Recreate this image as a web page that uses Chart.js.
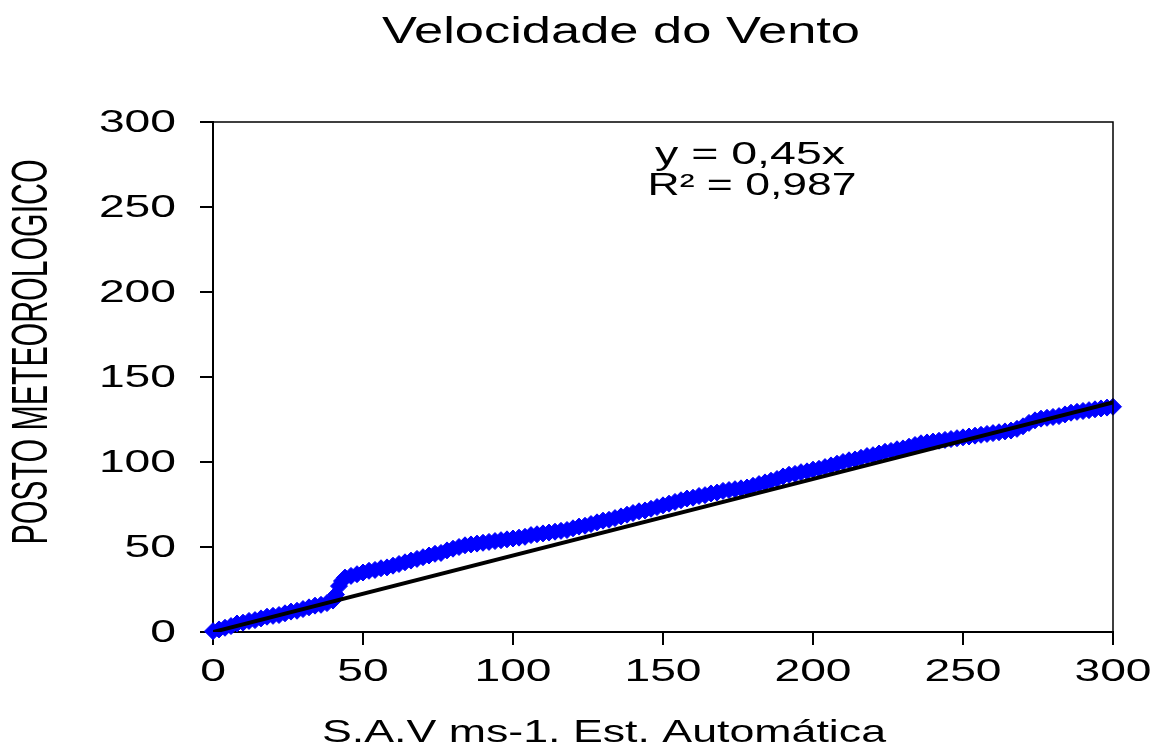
<!DOCTYPE html>
<html>
<head>
<meta charset="utf-8">
<script src="https://cdn.jsdelivr.net/npm/chart.js@4"></script>
<style>
  body { margin: 0; background: #fff; }
  #wrap { width: 1154px; height: 747px; position: relative; }
</style>
</head>
<body>
<div id="wrap"><canvas id="grafico"></canvas></div>
<script>
// dados
const savX = [0,2,4,6,8,10,12,14,16,18,20,22,24,26,28,30,32,34,36,38,40,41,42,43,44,46,48,50,
  52,54,56,58,60,62,64,66,68,70,72,74,76,78,80,82,84,86,88,90,92,94,96,98,100,
  102,104,106,108,110,112,114,116,118,120,122,124,126,128,130,132,134,136,138,140,
  142,144,146,148,150,152,154,156,158,160,162,164,166,168,170,172,174,176,178,180,
  182,184,186,188,190,192,194,196,198,200,202,204,206,208,210,212,214,216,218,220,
  222,224,226,228,230,232,234,236,238,240,242,244,246,248,250,252,254,256,258,260,
  262,264,266,268,270,272,274,276,278,280,282,284,286,288,290,292,294,296,298,300];
const postoY = [0.5,1.5,2.5,3.5,5,5.5,6.5,7,8,9,9.5,10,11,12,12.5,13.5,14.5,15.5,16,17,18.5,22,27,30,32,33,34,35,
  36,36.5,37.5,38,39,40,41,42,43,44,45,46,46.5,48,49,50,51,51.5,52,52.5,53,53.5,54,54.5,55,
  55.5,56,57,57.5,58,58.5,59,59.5,60,61,62,62.5,63.5,64.5,65.5,66,67,68,69,70,
  71,71.5,72.5,73.5,74.5,75.5,76.5,77.5,78.5,79,80,80.5,81.5,82,83,83.5,84,84.5,85,86,
  87,88,89,90,91.5,92.5,93,94,94.5,95.5,96,97,98,99,100,101,101.5,102.5,103.5,104,
  105,106,106.5,107.5,108,109,110,111,111.5,112,112.5,113,113.5,114,114.5,115,115.5,116,116.5,117,
  117.5,118,118.5,119.5,121,123,124.5,125.5,126,126.5,127,128,129,129.5,130,130.5,131,131.5,132,132.5];
// linha de tendência y = 0,45x
const tendX = [0, 300];
const tendY = [0, 135];
const ticksX = [0, 50, 100, 150, 200, 250, 300];
const ticksY = [0, 50, 100, 150, 200, 250, 300];
const titulo = "Velocidade do Vento";
const tituloX = "S.A.V ms-1. Est. Automática";
const tituloY = "POSTO METEOROLOGICO";
const equacao = ["y = 0,45x", "R² = 0,987"];

const FONTE = '"Liberation Sans", Arial, sans-serif';

// texto esticado na horizontal para caber numa largura
function textoLargo(ctx, txt, x, y, tam, largura, align) {
  ctx.save();
  ctx.font = tam + "px " + FONTE;
  ctx.textBaseline = "middle";
  ctx.textAlign = align || "center";
  const w = ctx.measureText(txt).width;
  ctx.translate(x, y);
  ctx.scale(largura / w, 1);
  ctx.fillStyle = "#000";
  ctx.fillText(txt, 0, 0);
  ctx.restore();
}

const textos = {
  id: "textos",
  afterDraw(chart) {
    const ctx = chart.ctx;
    const a = chart.chartArea;
    // moldura
    ctx.save();
    ctx.strokeStyle = "#000";
    ctx.lineWidth = 1.5;
    ctx.beginPath();
    ctx.moveTo(a.left, a.top);
    ctx.lineTo(a.right, a.top);
    ctx.lineTo(a.right, a.bottom);
    ctx.stroke();
    ctx.restore();

    const sx = chart.scales.x, sy = chart.scales.y;
    ticksY.forEach(v => {
      const t = String(v);
      textoLargo(ctx, t, 176, sy.getPixelForValue(v) + 1, 32, 25.7 * t.length, "right");
    });
    ticksX.forEach(v => {
      const t = String(v);
      textoLargo(ctx, t, sx.getPixelForValue(v), 672, 32, 25.7 * t.length, "center");
    });

    textoLargo(ctx, titulo, 621, 33, 37, 478);
    textoLargo(ctx, tituloX, 604, 733, 32, 564);
    textoLargo(ctx, equacao[0], 750, 155, 31, 190);
    textoLargo(ctx, equacao[1], 752, 186, 31, 209);

    // título do eixo y, estreito e rodado
    ctx.save();
    ctx.translate(33, 352);
    ctx.rotate(-Math.PI / 2);
    ctx.font = "50px " + FONTE;
    ctx.textAlign = "center";
    ctx.textBaseline = "middle";
    const w = ctx.measureText(tituloY).width;
    ctx.scale(385 / w, 1);
    ctx.fillStyle = "#000";
    ctx.fillText(tituloY, 0, 0);
    ctx.restore();
  }
};

const pontos = savX.map((x, i) => ({ x, y: postoY[i] }));
const tendencia = tendX.map((x, i) => ({ x, y: tendY[i] }));

new Chart(document.getElementById("grafico"), {
  type: "scatter",
  data: {
    datasets: [
      {
        type: "line",
        data: tendencia,
        borderColor: "#000",
        borderWidth: 4,
        pointRadius: 0,
        fill: false,
        order: 0
      },
      {
        data: pontos,
        pointStyle: "rectRot",
        pointRadius: 8.5,
        pointBorderWidth: 1,
        backgroundColor: "#0000ff",
        borderColor: "#0000ff",
        clip: false,
        order: 1
      }
    ]
  },
  options: {
    responsive: true,
    maintainAspectRatio: false,
    animation: false,
    layout: { padding: { left: 200, right: 41, top: 122, bottom: 102 } },
    plugins: {
      legend: { display: false },
      tooltip: { enabled: false },
      title: { display: false }
    },
    scales: {
      x: {
        type: "linear",
        min: 0, max: 300,
        afterBuildTicks: s => { s.ticks = ticksX.map(v => ({ value: v })); },
        ticks: { display: false },
        grid: { drawOnChartArea: false, drawTicks: true, tickLength: 13, color: "#000", lineWidth: 2 },
        border: { display: true, color: "#000", width: 2 }
      },
      y: {
        type: "linear",
        min: 0, max: 300,
        afterBuildTicks: s => { s.ticks = ticksY.map(v => ({ value: v })); },
        ticks: { display: false },
        grid: { drawOnChartArea: false, drawTicks: true, tickLength: 13, color: "#000", lineWidth: 2 },
        border: { display: true, color: "#000", width: 2 }
      }
    }
  },
  plugins: [textos]
});
</script>
</body>
</html>
